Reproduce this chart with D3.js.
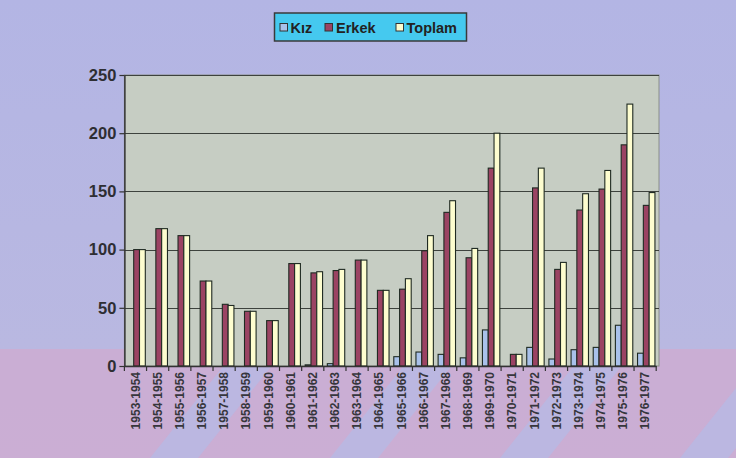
<!DOCTYPE html>
<html><head><meta charset="utf-8">
<script src="https://cdn.jsdelivr.net/npm/d3@7"></script>
<style>html,body{margin:0;padding:0;background:#b6b7e2;}svg{display:block;}</style>
</head><body>
<svg id="c" width="736" height="458"></svg>
<script>
const categories = ["1953-1954","1954-1955","1955-1956","1956-1957","1957-1958","1958-1959","1959-1960","1960-1961","1961-1962","1962-1963","1963-1964","1964-1965","1965-1966","1966-1967","1967-1968","1968-1969","1969-1970","1970-1971","1971-1972","1972-1973","1973-1974","1974-1975","1975-1976","1976-1977"];
const seriesNames = ["Kız","Erkek","Toplam"];
const kiz    = [0,0,0,0,0,0,0,0,1,2,0,0,8,12,10,7,31,0,16,6,14,16,35,11];
const erkek  = [100,118,112,73,53,47,39,88,80,82,91,65,66,99,132,93,170,10,153,83,134,152,190,138];
const toplam = [100,118,112,73,52,47,39,88,81,83,91,65,75,112,142,101,200,10,170,89,148,168,225,149];
const yTicks = [0,50,100,150,200,250];
const colors = {"Kız":"#a9c1ea","Erkek":"#9b4363","Toplam":"#fdfdcf"};

(function(){
const svg = d3.select("#c");
const W = 736, H = 458;

const defs = svg.append("defs");
const g0 = defs.append("linearGradient").attr("id","bg").attr("x1",0).attr("y1",0).attr("x2",0).attr("y2",1);
g0.append("stop").attr("offset","0%").attr("stop-color","#b3b5e4");
g0.append("stop").attr("offset","100%").attr("stop-color","#bbb9e0");
svg.append("rect").attr("width",W).attr("height",H).attr("fill","url(#bg)");
defs.append("clipPath").attr("id","bot").append("rect").attr("x",0).attr("y",349).attr("width",W).attr("height",H-349);
const deco = svg.append("g").attr("clip-path","url(#bot)");
deco.append("rect").attr("x",0).attr("y",349).attr("width",W).attr("height",H-349).attr("fill","#d2aacf").attr("opacity",0.7);
const stripes = [[-60,"\\"],[150,"/"],[330,"/"],[500,"/"],[680,"/"]];
stripes.forEach(([sx,dir])=>{
  const w = 48, h = 130, dx = dir==="/" ? h*0.8 : -h*0.8;
  deco.append("path")
    .attr("d",`M${sx},${H} L${sx+w},${H} L${sx+w+dx},${H-h} L${sx+dx},${H-h} Z`)
    .attr("fill","#b8b9e3").attr("opacity",0.85);
});

const pL = 124.4, pR = 656.2, pT = 75, pB = 366, pEdge = 659;
const x0 = d3.scaleBand().domain(categories).range([pL,pR]).padding(0);
const x1 = d3.scaleBand().domain(seriesNames).range([3.5, 3.5+17.4]).padding(0);
const y = d3.scaleLinear().domain([0,250]).range([pB, pT]);

svg.append("rect").attr("x",pL).attr("y",pT).attr("width",pEdge-pL).attr("height",pB-pT)
  .attr("fill","#c6cdc3").attr("stroke","#8a8f88").attr("stroke-width",1);

svg.append("g").selectAll("line").data(yTicks.filter(d=>d>0)).join("line")
  .attr("x1",pL).attr("x2",pEdge).attr("y1",d=>Math.round(y(d))+0.5).attr("y2",d=>Math.round(y(d))+0.5)
  .attr("stroke","#3d423d").attr("stroke-width",1);

const data = categories.map((c,i)=>({cat:c, vals:[{s:"Kız",v:kiz[i]},{s:"Erkek",v:erkek[i]},{s:"Toplam",v:toplam[i]}]}));
const grp = svg.append("g").selectAll("g").data(data).join("g")
  .attr("transform",d=>`translate(${x0(d.cat)},0)`);
grp.selectAll("rect").data(d=>d.vals.filter(e=>e.v>0)).join("rect")
  .attr("x",d=>x1(d.s)).attr("width",x1.bandwidth())
  .attr("y",d=>y(d.v)).attr("height",d=>pB-y(d.v))
  .attr("fill",d=>colors[d.s]).attr("stroke","#1f2a22").attr("stroke-width",1.1);

const yAxis = svg.append("g").attr("transform",`translate(${pL},0)`)
  .call(d3.axisLeft(y).tickValues(yTicks).tickSize(5).tickPadding(3).tickSizeOuter(0));
yAxis.select(".domain").attr("stroke","#333").attr("stroke-width",1.5);
yAxis.selectAll(".tick line").attr("stroke","#333").attr("stroke-width",1.2);
yAxis.selectAll("text").attr("font-family","Liberation Sans, Arial, sans-serif")
  .attr("font-weight","bold").attr("font-size","16.5px").attr("fill","#2e2e33");

const xAxis = svg.append("g").attr("transform",`translate(0,${pB})`)
  .call(d3.axisBottom(x0).tickSize(0).tickPadding(6));
xAxis.select(".domain").attr("stroke","#333").attr("stroke-width",1.5);
xAxis.selectAll(".tick text")
  .attr("transform","rotate(-90)").attr("x",-6).attr("y",0).attr("dy","0.35em")
  .attr("text-anchor","end")
  .attr("font-family","Liberation Sans, Arial, sans-serif")
  .attr("font-weight","bold").attr("font-size","12px").attr("fill","#36363c");
svg.append("g").selectAll("line").data(d3.range(categories.length+1)).join("line")
  .attr("x1",i=>pL + i*x0.bandwidth()).attr("x2",i=>pL + i*x0.bandwidth())
  .attr("y1",pB).attr("y2",pB+5).attr("stroke","#333").attr("stroke-width",1.2);

const lg = svg.append("g");
lg.append("rect").attr("x",274.5).attr("y",13).attr("width",192).attr("height",28)
  .attr("fill","#45c9ef").attr("stroke","#3a3a3a").attr("stroke-width",1.5);
const legendItems = [{s:"Kız",sq:280,tx:290.5},{s:"Erkek",sq:325,tx:336},{s:"Toplam",sq:396,tx:406.5}];
legendItems.forEach(it=>{
  lg.append("rect").attr("x",it.sq).attr("y",23.5).attr("width",7.5).attr("height",7.5)
    .attr("fill",colors[it.s]).attr("stroke","#333").attr("stroke-width",1);
  lg.append("text").attr("x",it.tx).attr("y",32.5).text(it.s)
    .attr("font-family","Liberation Sans, Arial, sans-serif").attr("font-weight","bold")
    .attr("font-size","14.5px").attr("fill","#222");
});
})();
</script>
</body></html>
